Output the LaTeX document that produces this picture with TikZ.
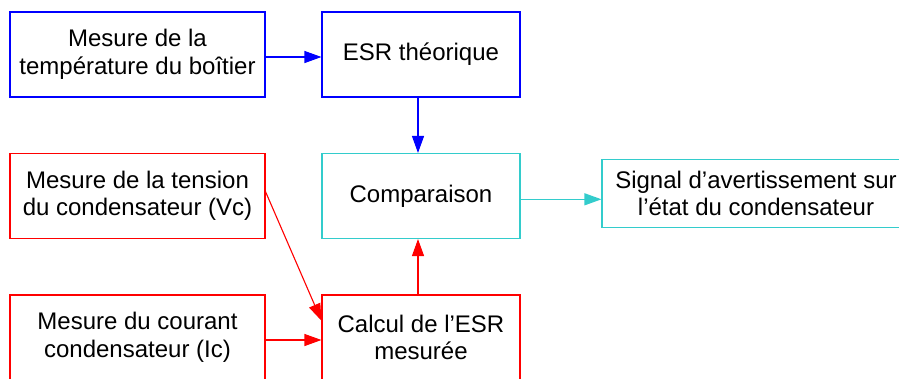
\documentclass[tikz,border=0pt]{standalone}
\usepackage{fontspec}
\setmainfont{Liberation Sans}
\usetikzlibrary{arrows.meta}
\definecolor{bblue}{RGB}{0,0,255}
\definecolor{rred}{RGB}{255,0,0}
\definecolor{ccyan}{RGB}{51,204,204}
\begin{document}
\begin{tikzpicture}[x=1pt,y=-1pt,
  box/.style={draw,line width=1.1pt,fill=white,inner sep=0pt,align=center,
    font=\fontsize{24}{27.5}\selectfont,text=black},
  wide/.style={box,minimum width=255pt,minimum height=85pt},
  mid/.style={box,minimum width=198pt,minimum height=85pt},
  arr/.style={line width=1.1pt,-{Triangle[length=17pt,width=12pt]}}]
\useasboundingbox (0,0) rectangle (899,378);
\node[wide,draw=bblue] (b1) at (137.5,54.5) {Mesure de la\\température du boîtier};
\node[mid,draw=bblue] (b2) at (421,54.5) {ESR théorique};
\node[wide,draw=rred] (b3) at (137.5,196) {Mesure de la tension\\du condensateur (Vc)};
\node[mid,draw=ccyan] (b4) at (421,196) {Comparaison};
\node[box,draw=ccyan,minimum width=308pt,minimum height=68pt] (b5) at (756,193.3) {Signal d’avertissement sur\\l’état du condensateur};
\node[wide,draw=rred] (b6) at (137.5,337.5) {Mesure du courant\\condensateur (Ic)};
\node[mid,draw=rred] (b7) at (421,337.5) {Calcul de l’ESR\\mesurée};
\draw[arr,bblue] ([yshift=-2.5pt]b1.east) -- ([yshift=-2.5pt]b2.west);
\draw[arr,bblue] ([xshift=-3pt]b2.south) -- ([xshift=-3pt]b4.north);
\draw[arr,ccyan] ([yshift=-3.3pt]b4.east) -- ([yshift=-6pt]b5.west);
\draw[arr,rred] ([yshift=4.3pt]b3.east) -- ([yshift=16.8pt]b7.west);
\draw[arr,rred] ([yshift=-2.5pt]b6.east) -- ([yshift=-2.5pt]b7.west);
\draw[arr,rred] ([xshift=-3pt]b7.north) -- ([xshift=-3pt]b4.south);
\end{tikzpicture}
\end{document}
